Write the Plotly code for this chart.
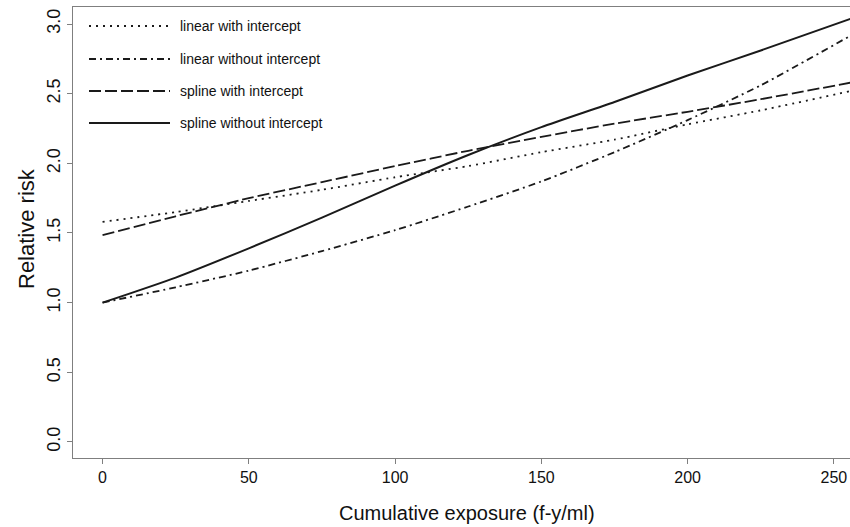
import plotly.graph_objects as go

# Data
exposure = [0, 25, 50, 75, 100, 125, 150, 175, 200, 225, 256]
linear_with_intercept = [1.58, 1.65, 1.73, 1.81, 1.90, 1.98, 2.08, 2.17, 2.28, 2.38, 2.52]
linear_without_intercept = [1.00, 1.11, 1.23, 1.37, 1.52, 1.69, 1.87, 2.08, 2.31, 2.56, 2.92]
spline_with_intercept = [1.485, 1.62, 1.75, 1.865, 1.98, 2.09, 2.19, 2.285, 2.37, 2.46, 2.58]
spline_without_intercept = [1.00, 1.18, 1.39, 1.61, 1.84, 2.06, 2.26, 2.44, 2.63, 2.81, 3.04]

series_names = ["linear with intercept", "linear without intercept",
                "spline with intercept", "spline without intercept"]
series_values = [linear_with_intercept, linear_without_intercept,
                 spline_with_intercept, spline_without_intercept]
dashes = ["2px,5px", "7px,4px,2px,4px", "12px,4px", "solid"]
widths = [1.8, 1.8, 1.8, 2.0]

x_ticks = [0, 50, 100, 150, 200, 250]
y_ticks = [0.0, 0.5, 1.0, 1.5, 2.0, 2.5, 3.0]
y_tick_text = ["0.0", "0.5", "1.0", "1.5", "2.0", "2.5", "3.0"]

LINE = "#1a1a1a"
AXIS = "#7f7f7f"
FONT = "Liberation Sans, Arial, sans-serif"

fig = go.Figure()
for name, vals, d, w in zip(series_names, series_values, dashes, widths):
    fig.add_trace(go.Scatter(x=exposure, y=vals, mode="lines", name=name,
                             line=dict(color=LINE, width=w, dash=d, shape="spline", smoothing=0.6),
                             showlegend=False))

# Manual legend (R-style, no box)
L, W, T, H = 73, 777, 7, 451
rows_px = [26, 59, 91, 123]
shapes = []
annotations = []
for name, d, w, ypx in zip(series_names, dashes, widths, rows_px):
    yp = (458 - ypx) / H
    shapes.append(dict(type="line", xref="paper", yref="paper",
                       x0=(89 - L) / W, x1=(170 - L) / W, y0=yp, y1=yp,
                       line=dict(color=LINE, width=w, dash=d)))
    annotations.append(dict(text=name, xref="paper", yref="paper",
                            x=(178 - L) / W, y=yp, xanchor="left", yanchor="middle",
                            showarrow=False, font=dict(family=FONT, size=14, color="#111")))

annotations.append(dict(text="Cumulative exposure (f-y/ml)", xref="paper", yref="paper",
                        x=(467 - L) / W, y=(458 - 513) / H, xanchor="center", yanchor="middle",
                        showarrow=False, font=dict(family=FONT, size=20, color="#111")))
annotations.append(dict(text="Relative risk", xref="paper", yref="paper",
                        x=(27 - L) / W, y=(458 - 229) / H, xanchor="center", yanchor="middle",
                        textangle=-90, showarrow=False,
                        font=dict(family=FONT, size=22, color="#111")))

fig.update_layout(
    width=850, height=527,
    margin=dict(l=73, r=0, t=7, b=69, autoexpand=False),
    paper_bgcolor="white", plot_bgcolor="white",
    shapes=shapes, annotations=annotations,
    font=dict(family=FONT, color="#111"),
)
fig.update_xaxes(range=[-10.1, 255.5], tickvals=x_ticks, ticks="outside", ticklen=5,
                 tickcolor=AXIS, showline=True, linecolor=AXIS, linewidth=1.2, mirror=True,
                 showgrid=False, zeroline=False, tickfont=dict(size=16, family=FONT))
fig.update_yaxes(range=[-0.115, 3.122], tickvals=y_ticks, ticktext=y_tick_text,
                 ticks="outside", ticklen=5, tickangle=-90,
                 tickcolor=AXIS, showline=True, linecolor=AXIS, linewidth=1.2,
                 showgrid=False, zeroline=False, tickfont=dict(size=18, family=FONT))

fig.write_html("out.html", config={"displayModeBar": False},
               post_script="document.body.style.margin='0';document.body.style.overflow='hidden';")
